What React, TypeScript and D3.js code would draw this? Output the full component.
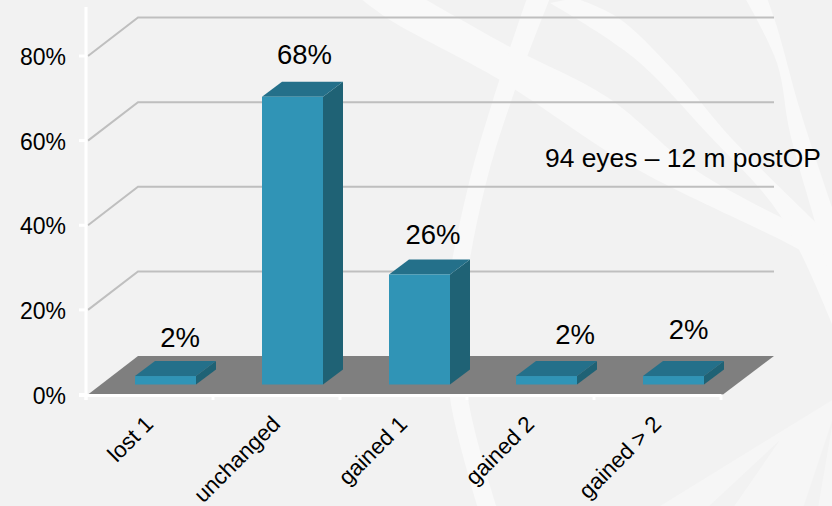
import React from "react";
import * as d3 from "d3";

// Share of eyes by change in visual acuity, 12 months after surgery
const categories = ["lost 1", "unchanged", "gained 1", "gained 2", "gained > 2"];
const shares = [2, 68, 26, 2, 2];
const yTicks = [0, 20, 40, 60, 80];
const note = "94 eyes – 12 m postOP";

// Hand placement of each value label relative to its bar's back top edge
const labelShiftX = [14.5, 12, 13.5, 28.5, 15];
const labelShiftY = [-14, -18, -15, -17, -22];

// Slide background artwork: sweeping ribbons, each an upper and a lower edge
type Pt = [number, number];
const ribbons: { a: Pt[]; b: Pt[] }[] = [
  {
    a: [[423, -2], [510, 47], [607, 97], [700, 173], [834, 243]],
    b: [[360, -2], [390, 20], [500, 80], [633, 167], [800, 250], [834, 272]],
  },
  {
    a: [[575, -2], [617, 17], [673, 70], [733, 140], [834, 240]],
    b: [[550, 3], [633, 57], [707, 133], [780, 215], [834, 329]],
  },
  {
    a: [[550, -2], [515, 90], [485, 187], [465, 300], [468, 398], [497, 508]],
    b: [[527, -2], [493, 100], [468, 187], [447, 300], [450, 398], [478, 508]],
  },
  {
    a: [[767, -2], [777, 27], [800, 110], [834, 213]],
    b: [[745, -2], [777, 63], [790, 133], [820, 240], [834, 300]],
  },
];
const fan: Pt[] = [[657, 508], [834, 399], [834, 508]];
const fanGaps: Pt[][] = [
  [[707, 508], [733, 508], [780, 440]],
  [[803, 508], [818, 508], [834, 415]],
];

const W = 832;
const H = 506;
const DEPTH_X = 20;
const DEPTH_Y = 15;
const WALL_X = 50;
const WALL_Y = 38.5;
const BAR_LIFT = 10;
const BAR_WIDTH = 61;

const fontFamily = "'Liberation Sans', Arial, sans-serif";

const y = d3.scaleLinear().domain([0, 80]).range([394.5, 56]);
const x = d3.scaleBand<string>().domain(categories).range([86, 721]);

const poly = (pts: Pt[]) => `M${pts.map((p) => p.join(",")).join("L")}Z`;
const smooth = d3.line<Pt>().curve(d3.curveCatmullRom.alpha(0.5));
const ribbonPath = (r: { a: Pt[]; b: Pt[] }) => {
  const upper = smooth(r.a) as string;
  const lower = smooth([...r.b].reverse()) as string;
  return `${upper}L${lower.slice(1)}Z`;
};

export default function App() {
  const floorLeft = 88;
  const floorRight = 723;
  return (
    <svg
      width={W}
      height={H}
      viewBox={`0 0 ${W} ${H}`}
      style={{ position: "absolute", left: 0, top: 0, display: "block" }}
      fontFamily={fontFamily}
    >
      <rect width={W} height={H} fill="#f2f2f2" />
      <path d={poly(fan)} fill="#f6f6f6" />
      {fanGaps.map((g, i) => (
        <path key={i} d={poly(g)} fill="#f2f2f2" />
      ))}
      {ribbons.map((r, i) => (
        <path key={i} d={ribbonPath(r)} fill="#f9f9f9" />
      ))}

      {/* back wall gridlines with their return along the side wall */}
      {yTicks.slice(1).map((t) => (
        <polyline
          key={t}
          points={`${floorLeft},${y(t)} ${floorLeft + WALL_X},${y(t) - WALL_Y} ${floorRight + WALL_X + 1},${y(t) - WALL_Y}`}
          fill="none"
          stroke="#bfbfbf"
          strokeWidth={2}
        />
      ))}

      {/* floor */}
      <path
        d={poly([
          [floorLeft, y(0)],
          [floorLeft + WALL_X, y(0) - WALL_Y],
          [floorRight + WALL_X + 1, y(0) - WALL_Y],
          [floorRight, y(0)],
        ])}
        fill="#7f7f7f"
      />

      {/* axes */}
      <g stroke="#ffffff" strokeWidth={3} fill="none">
        <line x1={86} x2={86} y1={7} y2={400} />
        <line x1={79} x2={721} y1={y(0) + 1} y2={y(0) + 1} />
        {yTicks.map((t) => (
          <line key={t} x1={79} x2={86} y1={y(t)} y2={y(t)} />
        ))}
        {categories.map((c) => (
          <line key={c} x1={x(c)} x2={x(c)} y1={y(0)} y2={400} />
        ))}
        <line x1={721} x2={721} y1={y(0)} y2={400} />
      </g>

      {/* y tick labels */}
      {yTicks.map((t) => (
        <text key={t} x={66} y={y(t) + 9} textAnchor="end" fontSize={23} fill="#000">
          {t}%
        </text>
      ))}

      {/* 3D bars */}
      {categories.map((c, i) => {
        const x0 = (x(c) as number) + 49;
        const x1 = x0 + BAR_WIDTH;
        const base = y(0) - BAR_LIFT;
        const top = base - (y(0) - y(shares[i]));
        return (
          <g key={c}>
            <path
              d={poly([[x1, top], [x1 + DEPTH_X, top - DEPTH_Y], [x1 + DEPTH_X, base - DEPTH_Y], [x1, base]])}
              fill="#1f6275"
            />
            <path
              d={poly([[x0, top], [x0 + DEPTH_X, top - DEPTH_Y], [x1 + DEPTH_X, top - DEPTH_Y], [x1, top]])}
              fill="#24708a"
            />
            <rect x={x0} y={top} width={BAR_WIDTH} height={base - top} fill="#3094b6" />
            <text
              x={(x0 + x1) / 2 + labelShiftX[i]}
              y={top - DEPTH_Y + labelShiftY[i]}
              textAnchor="middle"
              fontSize={27.5}
              fill="#000"
            >
              {shares[i]}%
            </text>
          </g>
        );
      })}

      {/* rotated category labels */}
      {categories.map((c) => (
        <text
          key={c}
          transform={`translate(${(x(c) as number) + x.bandwidth() / 2 + 5},${y(0) + 31}) rotate(-45)`}
          textAnchor="end"
          fontSize={22.4}
          fill="#000"
        >
          {c}
        </text>
      ))}

      <text x={545} y={167} fontSize={26.4} fill="#000">
        {note}
      </text>
    </svg>
  );
}
